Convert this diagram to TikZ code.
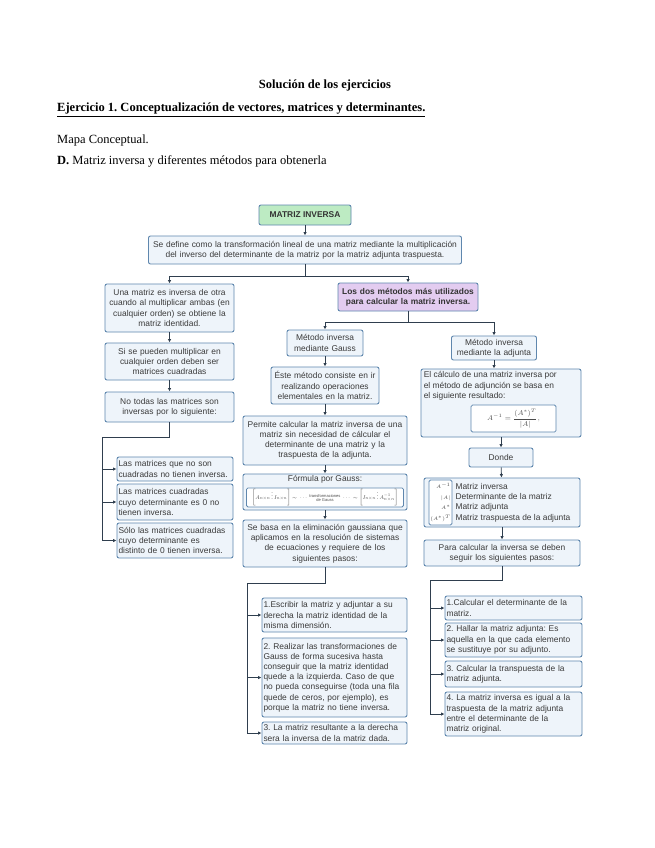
\documentclass[tikz,border=0pt]{standalone}
\usepackage{amsmath}
\usepackage{fontspec}
\setmainfont{Liberation Serif}
\setsansfont{Liberation Sans}
\usetikzlibrary{arrows.meta,positioning}
\frenchspacing

\definecolor{boxline}{HTML}{5F87AE}
\definecolor{boxfill}{HTML}{EEF4FA}
\definecolor{titlefill}{HTML}{BDEBC3}
\definecolor{methodfill}{HTML}{E3CCF0}
\definecolor{linkcol}{HTML}{2F3E4E}
\definecolor{txtcol}{HTML}{3A3A3A}

\begin{document}
\begin{tikzpicture}[
        x=1pt, y=-1pt,
        font=\sffamily\fontsize{8.4}{10.2}\selectfont,
        header/.style={font=\rmfamily\fontsize{12.5}{14}\selectfont, inner sep=0pt, text=black},
        box/.style={draw=boxline, fill=boxfill, line width=0.9pt, rounded corners=2pt, align=center, inner sep=1.5pt, text=txtcol},
        leftbox/.style={box, align=left},
        boldbox/.style={box, font=\sffamily\bfseries\fontsize{8.4}{10.2}\selectfont, text=black!80},
        formbox/.style={draw=boxline, fill=white, line width=0.8pt, rounded corners=1.5pt, inner sep=1pt, text=black!70},
        arrow/.style={-{Latex[length=3.5pt,width=3.5pt]}, linkcol, line width=0.8pt},
        link/.style={linkcol, line width=0.8pt}
        ]
        \fill[white] (0,0) rectangle (655,848);
        \useasboundingbox (0,0) rectangle (655,848);

        % header of the page
        \node[header, anchor=base] (sol) at (325,89) {\bfseries Solución de los ejercicios};
        \node[header, anchor=base west] (ej) at (57,112) {\bfseries\underline{Ejercicio 1. Conceptualización de vectores, matrices y determinantes.}};
        \node[header, anchor=base west] (mapa) at (57,143) {Mapa Conceptual.};
        \node[header, anchor=base west] (dd) at (57,164) {\textbf{D.} Matriz inversa y diferentes métodos para obtenerla};

        % top of the map
        \node[boldbox, fill=titlefill, minimum width=92pt, minimum height=20pt] (mi) at (305,215) {MATRIZ INVERSA};
        \node[box, text width=310pt, minimum height=28pt] (def) at (305,250) {Se define como la transformación lineal de una matriz mediante la multiplicación\\del inverso del determinante de la matriz por la matriz adjunta traspuesta.};

        % left column
        \node[box, text width=126pt, minimum height=48pt] (l1) at (169.5,308) {Una matriz es inversa de otra\\cuando al multiplicar ambas (en\\cualquier orden) se obtiene la\\matriz identidad.};
        \node[box, text width=126pt, minimum height=37pt] (l2) at (169.5,361.5) {Si se pueden multiplicar en\\cualquier orden deben ser\\matrices cuadradas};
        \node[box, text width=126pt, minimum height=30pt] (l3) at (169.5,407) {No todas las matrices son\\inversas por lo siguiente:};
        \node[leftbox, text width=113pt, minimum height=24pt] (s1) at (175,469) {Las matrices que no son\\cuadradas no tienen inversa.};
        \node[leftbox, text width=113pt, minimum height=36pt] (s2) at (175,502) {Las matrices cuadradas\\cuyo determinante es 0 no\\tienen inversa.};
        \node[leftbox, text width=113pt, minimum height=35pt] (s3) at (175,540.5) {Sólo las matrices cuadradas\\cuyo determinante es\\distinto de 0 tienen inversa.};

        % the two methods
        \node[boldbox, fill=methodfill, text width=137pt, minimum height=28pt] (metodos) at (408,297) {Los dos métodos más utilizados\\para calcular la matriz inversa.};

        % Gauss column
        \node[box, text width=73pt, minimum height=26pt] (gm) at (325,343) {Método inversa\\mediante Gauss};
        \node[box, text width=105pt, minimum height=37pt] (gd) at (325,385.5) {Éste método consiste en ir\\realizando operaciones\\elementales en la matriz.};
        \node[box, text width=161pt, minimum height=49pt] (perm) at (325,440.5) {Permite calcular la matriz inversa de una\\matriz sin necesidad de cálcular el\\determinante de una matriz y la\\traspuesta de la adjunta.};
        \node[box, minimum width=164pt, minimum height=36pt] (form) at (325,492) {};
        \node[anchor=north, inner sep=0pt, text=txtcol] (formt) at ([yshift=-2pt]form.north) {Fórmula por Gauss:};
        \node[formbox, anchor=south, minimum width=157pt, minimum height=18pt] (gf) at ([yshift=3pt]form.south) {\resizebox{146pt}{!}{$\left[A_{n\times n}\,\vdots\,I_{n\times n}\right]\sim\ \cdots\ \substack{\text{transformaciones}\\ \text{de Gauss}}\ \cdots\ \sim\left[I_{n\times n}\,\vdots\,A^{-1}_{n\times n}\right]$}};
        \node[box, text width=161pt, minimum height=47pt] (base) at (325,543.5) {Se basa en la eliminación gaussiana que\\aplicamos en la resolución de sistemas\\de ecuaciones y requiere de los\\siguientes pasos:};
        \node[leftbox, text width=142pt, minimum height=34pt] (g1) at (334.5,615) {1.Escribir la matriz y adjuntar a su\\derecha la matriz identidad de la\\misma dimensión.};
        \node[leftbox, text width=142pt, minimum height=79pt] (g2) at (334.5,677.5) {2. Realizar las transformaciones de\\Gauss de forma sucesiva hasta\\conseguir que la matriz identidad\\quede a la izquierda. Caso de que\\no pueda conseguirse (toda una fila\\quede de ceros, por ejemplo), es\\porque la matriz no tiene inversa.};
        \node[leftbox, text width=142pt, minimum height=22pt] (g3) at (334.5,733) {3. La matriz resultante a la derecha\\sera la inversa de la matriz dada.};

        % adjoint column
        \node[box, text width=82pt, minimum height=24pt] (am) at (494,348) {Método inversa\\mediante la adjunta};
        \node[box, minimum width=160pt, minimum height=68pt] (ad) at (501,403) {};
        \node[anchor=north west, align=left, inner sep=0pt, text=txtcol] (adt) at ([shift={(3,3)}]ad.north west) {El cálculo de una matriz inversa por\\el método de adjunción se basa en\\el siguiente resultado:};
        \node[formbox, anchor=south east, minimum width=85pt, minimum height=27pt, font=\fontsize{7}{8}\selectfont] (adf) at ([shift={(-25,-5)}]ad.south east) {$A^{-1}=\dfrac{(A^{*})^{T}}{|A|},$};
        \node[box, minimum width=64pt, minimum height=19pt] (donde) at (501,457.5) {Donde};
        \node[box, minimum width=156pt, minimum height=49pt] (leg) at (502,502.5) {};
        \node[formbox, anchor=west, align=right, minimum width=23pt, minimum height=45pt, font=\fontsize{5.5}{10.4}\selectfont] (legs) at ([xshift=5pt]leg.west) {$A^{-1}$\\$|A|$\\$A^{*}$\\$(A^{*})^{T}$};
        \node[align=left, inner sep=0pt, right=3pt of legs, text=txtcol, font=\sffamily\fontsize{8.4}{10.4}\selectfont] (legt) {Matriz inversa\\Determinante de la matriz\\Matriz adjunta\\Matriz traspuesta de la adjunta};
        \node[box, text width=153pt, minimum height=26pt] (para) at (502,553) {Para calcular la inversa se deben\\seguir los siguientes pasos:};
        \node[leftbox, text width=134pt, minimum height=24pt] (a1) at (513.5,608) {1.Calcular el determinante de la\\matriz.};
        \node[leftbox, text width=134pt, minimum height=34pt] (a2) at (513.5,640) {2. Hallar la matriz adjunta: Es\\aquella en la que cada elemento\\se sustituye por su adjunto.};
        \node[leftbox, text width=134pt, minimum height=26pt] (a3) at (513.5,674) {3. Calcular la transpuesta de la\\matriz adjunta.};
        \node[leftbox, text width=134pt, minimum height=44pt] (a4) at (513.5,714) {4. La matriz inversa es igual a la\\traspuesta de la matriz adjunta\\entre el determinante de la\\matriz original.};

        % connectors
        \draw[arrow] (mi) -- (def);
        \draw[link] (def.south) -- ++(0,12) coordinate (j1);
        \draw[arrow] (j1) -| (l1.north);
        \draw[arrow] (j1) -| (metodos.north);
        \draw[arrow] (l1) -- (l2);
        \draw[arrow] (l2) -- (l3);
        \coordinate (j2) at (102,437);
        \draw[link] (l3.south) |- (j2);
        \foreach \n in {s1,s2,s3}
            \draw[arrow] (j2) |- (\n.west);

        \draw[link] (metodos.south) -- ++(0,11) coordinate (j3);
        \draw[arrow] (j3) -| (gm.north);
        \draw[arrow] (j3) -| (am.north);

        \draw[arrow] (gm) -- (gd);
        \draw[arrow] (gd) -- (perm);
        \draw[arrow] (perm) -- (form);
        \draw[arrow] (form) -- (base);
        \coordinate (j4) at (247,583);
        \draw[link] (base.south) |- (j4);
        \foreach \n in {g1,g2,g3}
            \draw[arrow] (j4) |- (\n.west);

        \draw[arrow] (am.south) -- (am.south |- ad.north);
        \draw[arrow] (ad) -- (donde);
        \draw[arrow] (donde) -- (leg);
        \draw[arrow] (leg) -- (para);
        \coordinate (j5) at (430,580);
        \draw[link] (para.south) |- (j5);
        \foreach \n in {a1,a2,a3,a4}
            \draw[arrow] (j5) |- (\n.west);
    \end{tikzpicture}
\end{document}
